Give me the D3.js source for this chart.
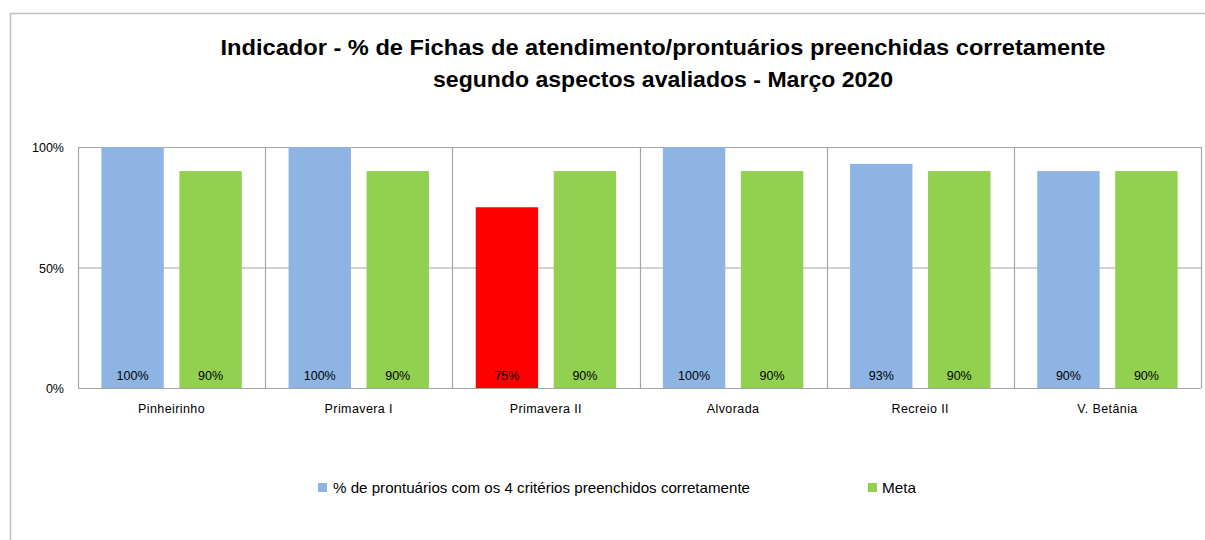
<!DOCTYPE html>
<html><head><meta charset="utf-8">
<script src="https://cdn.jsdelivr.net/npm/d3@7"></script>
<style>body{margin:0;background:#fff;}svg{display:block;font-family:"Liberation Sans",Arial,sans-serif;}</style>
</head><body><svg id="c" width="1205" height="540"></svg>
<script>
const categories = ["Pinheirinho","Primavera I","Primavera II","Alvorada","Recreio II","V. Betânia"];
const seriesNames = ["% de prontuários com os 4 critérios preenchidos corretamente","Meta"];
const valores = [100,100,75,100,93,90];
const meta = [90,90,90,90,90,90];
const yTicks = [0,50,100];
const titleLines = ["Indicador - % de Fichas de atendimento/prontuários preenchidas corretamente","segundo aspectos avaliados - Março 2020"];

const svg = d3.select("#c");
const W=1205,H=540;
const plot = {l:78,r:1201,t:147,b:388};
const cBlue="#8EB4E3", cGreen="#92D050", cRed="#FF0000", cGrid="#A6A6A6";

// outer border
svg.append("path").attr("d",`M10.5,${H} V13.5 H${W}`).attr("fill","none").attr("stroke","#BFBFBF").attr("stroke-width",1.5);

// title
const tl=[{y:55,len:885},{y:87,len:460}];
titleLines.forEach((t,i)=>{
  svg.append("text").attr("x",663).attr("y",tl[i].y).attr("text-anchor","middle")
   .attr("font-size",22).attr("font-weight","bold").attr("fill","#000")
   .attr("textLength",tl[i].len).attr("lengthAdjust","spacingAndGlyphs").text(t);
});

const x = d3.scaleBand().domain(categories).range([plot.l,plot.r]).paddingInner(0).paddingOuter(0);
const x1 = d3.scaleBand().domain([0,1]).range([0,x.bandwidth()]).paddingInner(0.2).paddingOuter(0.3);
const y = d3.scaleLinear().domain([0,100]).range([plot.b,plot.t]);

// gridlines
const g = svg.append("g");
g.selectAll("line.h").data(yTicks).join("line")
  .attr("x1",plot.l).attr("x2",plot.r).attr("y1",d=>y(d)+0.5).attr("y2",d=>y(d)+0.5)
  .attr("stroke",cGrid).attr("stroke-width",1.2);
const dividers = categories.map(c=>x(c)).concat([plot.r]);
g.selectAll("line.v").data(dividers).join("line")
  .attr("x1",d=>Math.round(d)+0.5).attr("x2",d=>Math.round(d)+0.5).attr("y1",plot.t).attr("y2",plot.b)
  .attr("stroke",cGrid).attr("stroke-width",1.2);

// bars
const data=[];
categories.forEach((c,i)=>{
  data.push({c,s:0,v:valores[i],color: valores[i]<meta[i]-10?cRed:cBlue});
  data.push({c,s:1,v:meta[i],color:cGreen});
});
svg.append("g").selectAll("rect").data(data).join("rect")
  .attr("x",d=>x(d.c)+x1(d.s)).attr("width",x1.bandwidth())
  .attr("y",d=>y(d.v)).attr("height",d=>y(0)-y(d.v)).attr("fill",d=>d.color);
svg.append("g").selectAll("text").data(data).join("text")
  .attr("x",d=>x(d.c)+x1(d.s)+x1.bandwidth()/2).attr("y",380)
  .attr("text-anchor","middle").attr("font-size",12.5).attr("fill","#000")
  .text(d=>d.v+"%");

// y axis labels
svg.append("g").selectAll("text").data(yTicks).join("text")
  .attr("x",64).attr("y",d=>y(d)+5).attr("text-anchor","end").attr("font-size",12.5).attr("fill","#000")
  .text(d=>d+"%");

// x axis labels
svg.append("g").selectAll("text").data(categories).join("text")
  .attr("x",d=>x(d)+x.bandwidth()/2).attr("y",413).attr("text-anchor","middle")
  .attr("font-size",12.5).attr("letter-spacing",0.4).attr("fill","#000").text(d=>d);

// legend
const leg=[{sx:318,tx:333,len:417,color:cBlue},{sx:868,tx:882,len:34,color:cGreen}];
seriesNames.forEach((n,i)=>{
  svg.append("rect").attr("x",leg[i].sx).attr("y",483).attr("width",9).attr("height",9).attr("fill",leg[i].color);
  const t=svg.append("text").attr("x",leg[i].tx).attr("y",493).attr("font-size",14.5).attr("fill","#000").text(n);
  t.attr("textLength",leg[i].len).attr("lengthAdjust","spacingAndGlyphs");
});
</script></body></html>
